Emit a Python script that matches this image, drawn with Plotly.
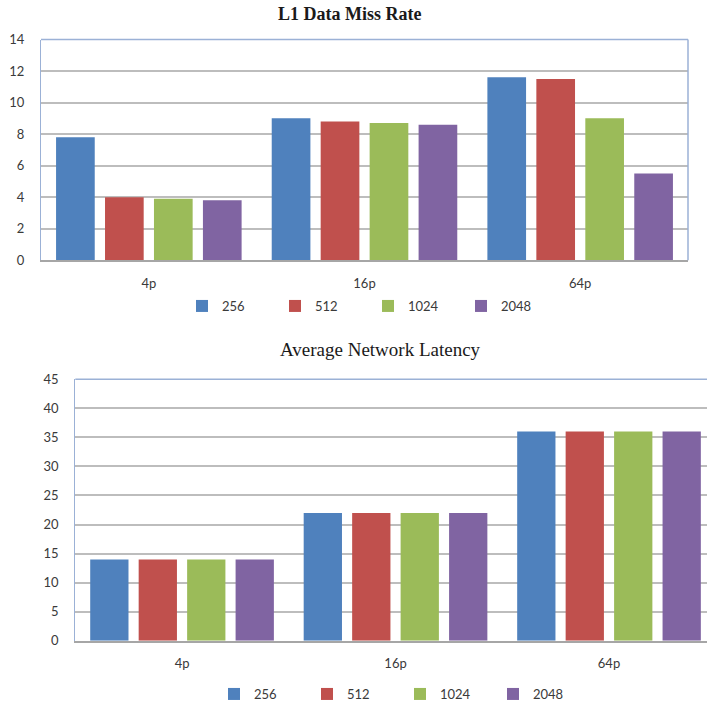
import plotly.graph_objects as go

# Processor configurations and cache sizes
categories = ["4p", "16p", "64p"]
series_names = ["256", "512", "1024", "2048"]
colors = ["#4F81BD", "#C0504D", "#9BBB59", "#8064A2"]

# L1 data miss rate per cache size (one list per series, ordered by category)
miss_256 = [7.8, 9.0, 11.6]
miss_512 = [4.0, 8.8, 11.5]
miss_1024 = [3.9, 8.7, 9.0]
miss_2048 = [3.8, 8.6, 5.5]

# Average network latency per cache size
lat_256 = [14, 22, 36]
lat_512 = [14, 22, 36]
lat_1024 = [14, 22, 36]
lat_2048 = [14, 22, 36]

miss_rates = [miss_256, miss_512, miss_1024, miss_2048]
latencies = [lat_256, lat_512, lat_1024, lat_2048]

W, H = 707, 704
TICK_FONT = dict(family="Lato, Open Sans, sans-serif", size=13, color="#3a3a3a")
SERIF = "Liberation Serif, Times New Roman, serif"
GRID = "#bdbdbd"
BORDER = "#9bb1d6"

fig = go.Figure()

for name, color, vals in zip(series_names, colors, miss_rates):
    fig.add_trace(go.Bar(x=categories, y=vals, name=name, marker_color=color,
                         marker_line_width=0, xaxis="x", yaxis="y", legend="legend"))
for name, color, vals in zip(series_names, colors, latencies):
    fig.add_trace(go.Bar(x=categories, y=vals, name=name, marker_color=color,
                         marker_line_width=0, xaxis="x2", yaxis="y2", legend="legend2"))

# pixel -> paper helpers
px_x = lambda p: p / W
px_y = lambda p: 1 - p / H

top_dom_x = [px_x(41), px_x(688)]
top_dom_y = [px_y(260.3), px_y(39.5)]
bot_dom_x = [px_x(75.3), 1.0]
bot_dom_y = [px_y(640.7), px_y(379.3)]

axis_common = dict(showgrid=False, zeroline=False, ticks="outside", ticklen=10,
                   tickcolor="rgba(0,0,0,0)", tickfont=TICK_FONT, type="category",
                   showline=True, linecolor="#a6a6a6", linewidth=1.5, automargin=False)
yaxis_common = dict(showgrid=True, gridcolor=GRID, gridwidth=1.6, zeroline=False,
                    ticks="outside", ticklen=13, tickcolor="rgba(0,0,0,0)",
                    tickfont=TICK_FONT, showline=True, linecolor=BORDER, linewidth=1.3,
                    automargin=False)
legend_font = dict(family="Lato, sans-serif", size=13, color="#3a3a3a")

fig.update_layout(
    width=W, height=H,
    margin=dict(l=0, r=0, t=0, b=0, autoexpand=False),
    paper_bgcolor="white", plot_bgcolor="white",
    barmode="group", bargap=0.092, bargroupgap=0.21,
    xaxis=dict(domain=top_dom_x, anchor="y", range=[-0.5, 2.5], **axis_common),
    yaxis=dict(domain=top_dom_y, anchor="x", range=[0, 14], dtick=2, **yaxis_common),
    xaxis2=dict(domain=bot_dom_x, anchor="y2", range=[-0.5, 2.459], **axis_common),
    yaxis2=dict(domain=bot_dom_y, anchor="x2", range=[0, 45], dtick=5, **yaxis_common),
    legend=dict(orientation="h", x=px_x(368), xanchor="center", y=px_y(306),
                yanchor="middle", font=legend_font,
                entrywidth=48, entrywidthmode="pixels", itemclick=False),
    legend2=dict(orientation="h", x=px_x(400), xanchor="center", y=px_y(694),
                 yanchor="middle", font=legend_font,
                 entrywidth=48, entrywidthmode="pixels", itemclick=False),
    annotations=[
        dict(text="<b>L1 Data Miss Rate</b>", x=px_x(349), y=px_y(14), xref="paper", yref="paper",
             showarrow=False, font=dict(family=SERIF, size=18, color="#1a1a1a"),
             xanchor="center", yanchor="middle"),
        dict(text="Average Network Latency", x=px_x(381), y=px_y(349), xref="paper", yref="paper",
             showarrow=False, font=dict(family=SERIF, size=19, color="#1a1a1a"),
             xanchor="center", yanchor="middle"),
    ],
    shapes=[
        # plot-area borders (top and right) in light blue
        dict(type="line", xref="x domain", yref="y domain", x0=0, x1=1, y0=1, y1=1,
             line=dict(color=BORDER, width=1.5), layer="above"),
        dict(type="line", xref="x domain", yref="y domain", x0=1, x1=1, y0=0, y1=1,
             line=dict(color=BORDER, width=1.5), layer="above"),
        dict(type="line", xref="x2 domain", yref="y2 domain", x0=0, x1=1, y0=1, y1=1,
             line=dict(color=BORDER, width=1.5), layer="above"),
    ],
)

fig.write_html("out.html")
